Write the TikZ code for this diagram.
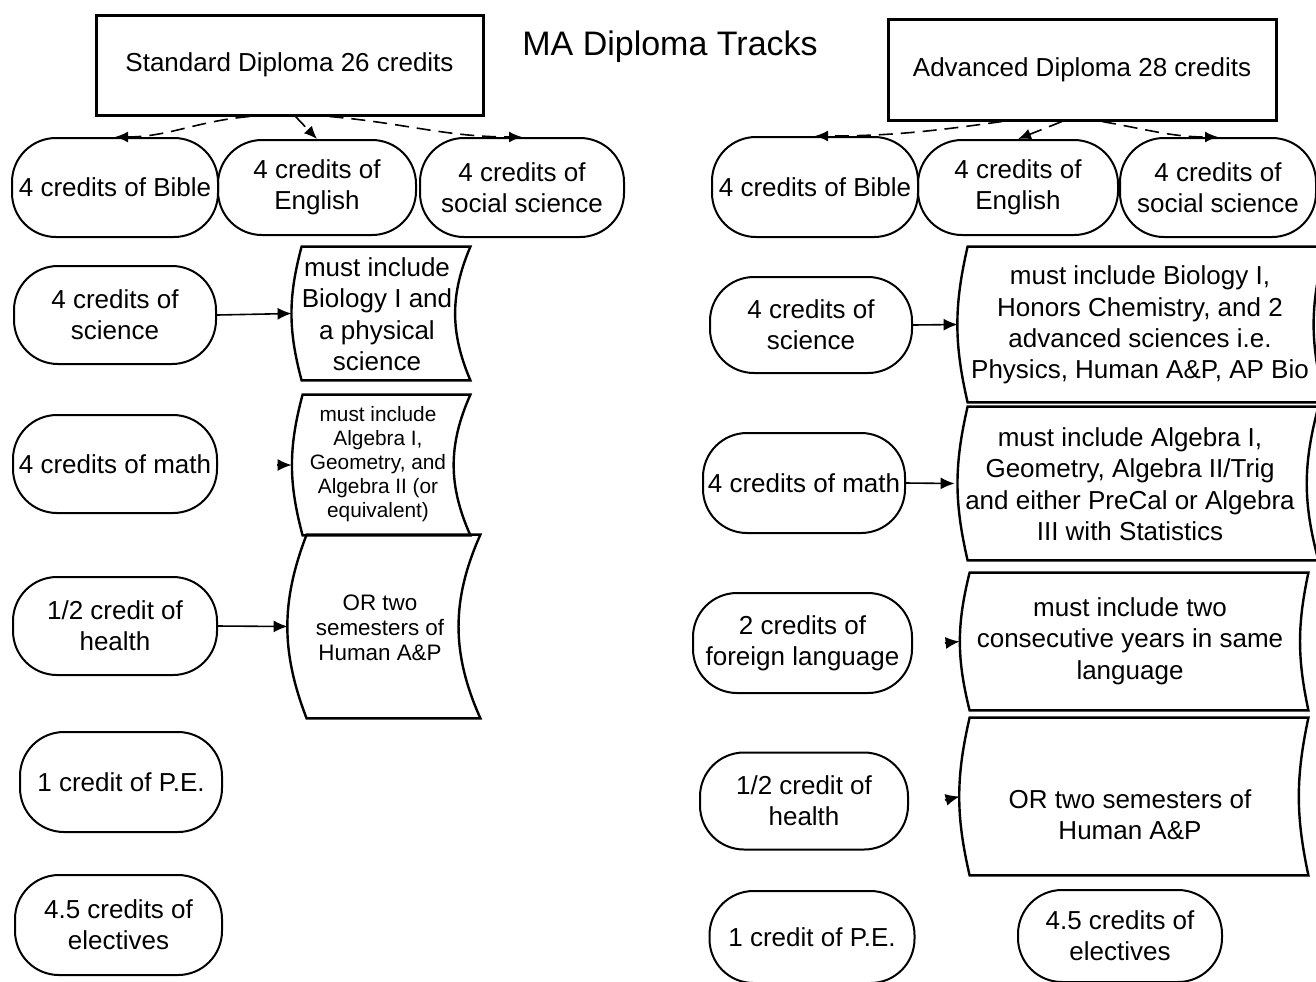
\documentclass[tikz,border=0pt]{standalone}
\usepackage{fontspec}
\setmainfont{Liberation Sans}
\usetikzlibrary{arrows.meta}
\tikzset{
  titletext/.style={font=\fontsize{17}{20}\selectfont, inner sep=0pt},
  headbox/.style 2 args={draw, line width=1.5pt, minimum width=#1, minimum height=#2, inner sep=0pt, font=\fontsize{13}{15.5}\selectfont},
  oval/.style 2 args={draw, line width=1pt, rounded corners=22pt, minimum width=#1, minimum height=#2, inner sep=0pt, align=center, font=\fontsize{13}{15.5}\selectfont},
  storebox/.style 2 args={minimum width=#1, minimum height=#2, inner sep=0pt},
  storeline/.style={draw, line width=1.2pt, line join=miter},
  btext/.style={inner sep=0pt, align=center, font=\fontsize{13}{15.7}\selectfont},
  smalltext/.style={inner sep=0pt, align=center, font=\fontsize{10.4}{12}\selectfont},
  midtext/.style={inner sep=0pt, align=center, font=\fontsize{11.2}{12.6}\selectfont},
  arr/.style={line width=0.8pt, -{Latex[length=7pt,width=6pt]}},
  dasharr/.style={line width=0.8pt, dash pattern=on 7pt off 4pt, -{Latex[length=6.5pt,width=5.5pt]}}
}
\newcommand\storeborder[3]{\draw[storeline] (#1.north west) -- (#1.north east) to[bend right=#3] (#1.south east) -- (#1.south west) to[bend left=#2] (#1.north west) -- cycle;}
\begin{document}
\begin{tikzpicture}[x=0.5pt,y=-0.5pt]
\clip (0,0) rectangle (1316,981);
\fill[white] (0,0) rectangle (1316,981);

\node[titletext] (title) at (670,47) {MA Diploma Tracks};

% ---------------- Standard track ----------------
\node[headbox={193.5pt}{50pt}] (std) at (289.5,65) {Standard Diploma 26 credits};

\node[oval={103pt}{49.5pt}] (sbib) at (115,187.5) {4 credits of Bible};
\node[oval={99pt}{47.5pt}] (seng) at (317,187.5) {4 credits of\\English};
\node[oval={102pt}{49.5pt}] (ssoc) at (522,187.5) {4 credits of\\social science};

\draw[dasharr] ([xshift=-20pt]std.south) to[out=185,in=0] (sbib.north);
\draw[dasharr] ([xshift=3pt]std.south) -- (seng.north);
\draw[dasharr] ([xshift=20pt]std.south) to[out=-5,in=180] (ssoc.north);

\node[oval={101pt}{49pt}] (ssci) at (115,315) {4 credits of\\science};
\node[storebox={84pt}{66.5pt}] (sscibox) at (386,313.5) {};
\storeborder{sscibox}{15}{23}
\node[btext] (sscitext) at (377,314) {must include\\Biology I and\\a physical\\science};
\draw[arr] (ssci.east) -- ([xshift=-5pt]sscibox.west);

\node[oval={102pt}{49pt}] (smath) at (115,464) {4 credits of math};
\node[storebox={83.5pt}{70pt}] (smathbox) at (386.5,465) {};
\storeborder{smathbox}{15}{24}
\node[smalltext] (smathtext) at (378,464) {must include\\Algebra I,\\Geometry, and\\Algebra II (or\\equivalent)};
\coordinate (smathtip) at (277,465);
\draw[arr] (smathtip) -- ([xshift=-5.5pt]smathbox.west);

\node[oval={102pt}{49pt}] (shea) at (115,626) {1/2 credit of\\health};
\node[storebox={86.5pt}{91.5pt}] (sheabox) at (393.5,626.5) {};
\storeborder{sheabox}{21}{24}
\node[midtext] (sheatext) at (380,628) {OR two\\semesters of\\Human A\&P};
\draw[arr] (shea.east) -- ([xshift=-9.5pt]sheabox.west);

\node[oval={101pt}{50pt}] (spe) at (121,782) {1 credit of P.E.};
\node[oval={103.5pt}{50pt}] (sele) at (118.5,925) {4.5 credits of\\electives};

% ---------------- Advanced track ----------------
\node[headbox={194pt}{50.5pt}] (adv) at (1082,69.5) {Advanced Diploma 28 credits};

\node[oval={103pt}{50pt}] (rbib) at (815,187) {4 credits of Bible};
\node[oval={100pt}{47.5pt}] (reng) at (1018,187.5) {4 credits of\\English};
\node[oval={98pt}{49.5pt}] (rsoc) at (1218,187.5) {4 credits of\\social science};

\draw[dasharr] ([xshift=-40pt]adv.south) to[out=188,in=0] (rbib.north);
\draw[dasharr] ([xshift=-10pt]adv.south) -- (reng.north);
\draw[dasharr] ([xshift=10pt]adv.south) to[out=-10,in=180] (rsoc.north);

\node[oval={101pt}{48pt}] (rsci) at (811,325) {4 credits of\\science};
\node[storebox={178.5pt}{77.5pt}] (rscibox) at (1146.5,324.5) {};
\storeborder{rscibox}{13}{15}
\node[btext] (rscitext) at (1140,325) {must include Biology I,\\Honors Chemistry, and 2\\advanced sciences i.e.\\Physics, Human A\&P, AP Bio};
\draw[arr] (rsci.east) -- ([xshift=-5pt]rscibox.west);

\node[oval={101pt}{50pt}] (rmath) at (804,483) {4 credits of math};
\node[storebox={175pt}{76.5pt}] (rmathbox) at (1143,483.5) {};
\storeborder{rmathbox}{13}{15}
\node[btext] (rmathtext) at (1130,484) {must include Algebra I,\\Geometry, Algebra II/Trig\\and either PreCal or Algebra\\III with Statistics};
\draw[arr] (rmath.east) -- ([xshift=-6.5pt]rmathbox.west);

\node[oval={109.5pt}{50pt}] (rfl) at (802.5,643) {2 credits of\\foreign language};
\node[storebox={169pt}{68.5pt}] (rflbox) at (1139,641.5) {};
\storeborder{rflbox}{14}{12}
\node[btext] (rfltext) at (1130,641) {must include two\\consecutive years in same\\language};
\coordinate (rfltip) at (945,643);
\draw[arr] (rfltip) -- ([xshift=-5pt]rflbox.west);

\node[oval={104pt}{48.5pt}] (rhea) at (804,801) {1/2 credit of\\health};
\node[storebox={169pt}{78.5pt}] (rheabox) at (1139,796.5) {};
\storeborder{rheabox}{13}{12}
\node[btext] (rheatext) at (1130,815) {OR two semesters of\\Human A\&P};
\coordinate (rheatip) at (945,800);
\draw[arr] (rheatip) -- ([xshift=-5pt]rheabox.west);

\node[oval={102.5pt}{46pt}] (rpe) at (812,937) {1 credit of P.E.};
\node[oval={102pt}{46pt}] (rele) at (1120,936) {4.5 credits of\\electives};
\end{tikzpicture}
\end{document}
